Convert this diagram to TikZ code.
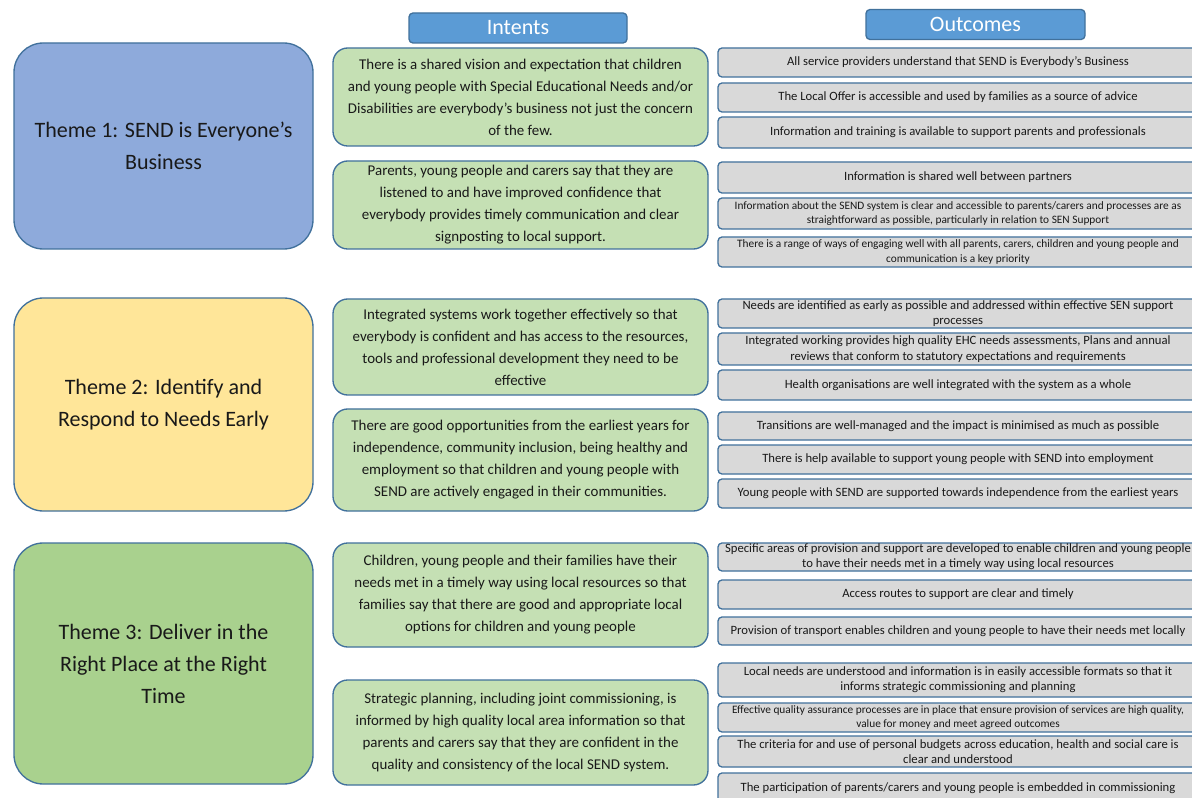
\documentclass[tikz,border=0pt]{standalone}
\usepackage{fontspec}
\setmainfont{Carlito}
\definecolor{edgeblue}{HTML}{41719C}
\definecolor{headblue}{HTML}{5B9BD5}
\definecolor{themeblue}{HTML}{8EAADB}
\definecolor{themeyellow}{HTML}{FFE699}
\definecolor{themegreen}{HTML}{A9D18E}
\definecolor{intentgreen}{HTML}{C5E0B4}
\definecolor{outgray}{HTML}{D9D9D9}
\tikzset{
  theme/.style={draw=edgeblue, line width=1pt, rounded corners=22pt,
    minimum width=224.25pt, align=center, text=black!90,
    font=\fontsize{16.5}{24}\selectfont},
  header/.style={draw=edgeblue, fill=headblue, line width=1pt, rounded corners=3pt,
    minimum height=22.5pt, text=white, font=\fontsize{16.5}{20}\selectfont},
  intent/.style={draw=edgeblue, fill=intentgreen, line width=1pt, rounded corners=11pt,
    minimum width=281.25pt, align=center, text=black!90,
    font=\fontsize{11.2}{16.5}\selectfont},
  outcome/.style={draw=edgeblue, fill=outgray, line width=1pt, rounded corners=3pt,
    minimum width=360pt, minimum height=21.75pt, inner ysep=0pt, align=center,
    text=black!90, font=\fontsize{9.5}{11.5}\selectfont},
  smalltext/.style={font=\fontsize{8.5}{11}\selectfont}
}
\begin{document}
\begin{tikzpicture}[x=0.75pt,y=-0.75pt]
	\clip (0,0) rectangle (1192,798);
	\fill[white] (0,0) rectangle (1192,798);
	% Draw the column headers
	\node[header, minimum width=163.5pt] (intents) at (518,28) {Intents};
	\node[header, minimum width=164.25pt] (outcomes) at (975.5,24.5) {Outcomes};
	% Draw the three themes
	\node[theme, fill=themeblue, minimum height=154.5pt] (theme1) at (163.5,146)
	  {Theme 1: SEND is Everyone’s\\Business};
	\node[theme, fill=themeyellow, minimum height=159.75pt] (theme2) at (163.5,404.5)
	  {Theme 2: Identify and\\Respond to Needs Early};
	\node[theme, fill=themegreen, minimum height=180.75pt] (theme3) at (163.5,663.5)
	  {Theme 3: Deliver in the\\Right Place at the Right\\Time};
	% Draw the intents
	\node[intent, minimum height=73.5pt] (int1) at (520.5,97)
	  {There is a shared vision and expectation that children\\and young people with Special Educational Needs and/or\\Disabilities are everybody’s business not just the concern\\of the few.};
	\node[intent, minimum height=66pt] (int2) at (520.5,205)
	  {Parents, young people and carers say that they are\\listened to and have improved confidence that\\everybody provides timely communication and clear\\signposting to local support.};
	\node[intent, minimum height=72pt] (int3) at (520.5,347)
	  {Integrated systems work together effectively so that\\everybody is confident and has access to the resources,\\tools and professional development they need to be\\effective};
	\node[intent, minimum height=76.5pt] (int4) at (520.5,460)
	  {There are good opportunities from the earliest years for\\independence, community inclusion, being healthy and\\employment so that children and young people with\\SEND are actively engaged in their communities.};
	\node[intent, minimum height=78pt] (int5) at (520.5,595)
	  {Children, young people and their families have their\\needs met in a timely way using local resources so that\\families say that there are good and appropriate local\\options for children and young people};
	\node[intent, minimum height=78.75pt] (int6) at (520.5,732.5)
	  {Strategic planning, including joint commissioning, is\\informed by high quality local area information so that\\parents and carers say that they are confident in the\\quality and consistency of the local SEND system.};
	% Draw the outcomes of theme 1
	\node[outcome] (out1) at (958,62.5)
	  {All service providers understand that SEND is Everybody’s Business};
	\node[outcome] (out2) at (958,97.5)
	  {The Local Offer is accessible and used by families as a source of advice};
	\node[outcome, minimum height=23.25pt] (out3) at (958,132.5)
	  {Information and training is available to support parents and professionals};
	\node[outcome, minimum height=23.25pt] (out4) at (958,177.5)
	  {Information is shared well between partners};
	\node[outcome, smalltext, minimum height=23.25pt] (out5) at (958,213.5)
	  {Information about the SEND system is clear and accessible to parents/carers and processes are as\\straightforward as possible, particularly in relation to SEN Support};
	\node[outcome, smalltext, minimum height=22.5pt] (out6) at (958,252)
	  {There is a range of ways of engaging well with all parents, carers, children and young people and\\communication is a key priority};
	% Draw the outcomes of theme 2
	\node[outcome] (out7) at (958,313.5)
	  {Needs are identified as early as possible and addressed within effective SEN support\\processes};
	\node[outcome, minimum height=24pt] (out8) at (958,349)
	  {Integrated working provides high quality EHC needs assessments, Plans and annual\\reviews that conform to statutory expectations and requirements};
	\node[outcome, minimum height=22.5pt] (out9) at (958,385)
	  {Health organisations are well integrated with the system as a whole};
	\node[outcome, minimum height=21pt] (out10) at (958,426)
	  {Transitions are well-managed and the impact is minimised as much as possible};
	\node[outcome] (out11) at (958,459.5)
	  {There is help available to support young people with SEND into employment};
	\node[outcome] (out12) at (958,493.5)
	  {Young people with SEND are supported towards independence from the earliest years};
	% Draw the outcomes of theme 3
	\node[outcome, minimum height=21pt] (out13) at (958,557)
	  {Specific areas of provision and support are developed to enable children and young people\\to have their needs met in a timely way using local resources};
	\node[outcome] (out14) at (958,594.5)
	  {Access routes to support are clear and timely};
	\node[outcome, minimum height=21pt] (out15) at (958,631)
	  {Provision of transport enables children and young people to have their needs met locally};
	\node[outcome, minimum height=25.5pt] (out16) at (958,680)
	  {Local needs are understood and information is in easily accessible formats so that it\\informs strategic commissioning and planning};
	\node[outcome, smalltext] (out17) at (958,717.5)
	  {Effective quality assurance processes are in place that ensure provision of services are high quality,\\value for money and meet agreed outcomes};
	\node[outcome, minimum height=23.25pt] (out18) at (958,751.5)
	  {The criteria for and use of personal budgets across education, health and social care is\\clear and understood};
	\node[outcome, minimum height=22.5pt] (out19) at (958,788)
	  {The participation of parents/carers and young people is embedded in commissioning};
\end{tikzpicture}
\end{document}
